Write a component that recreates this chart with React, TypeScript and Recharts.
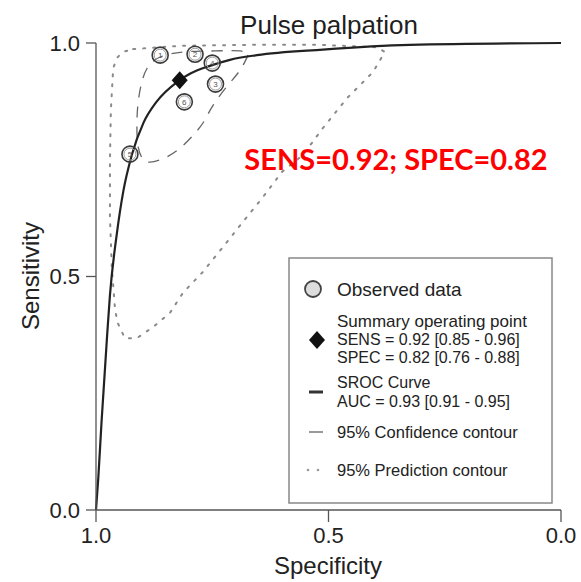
import React from 'react';
import { ComposedChart, Line, Scatter, XAxis, YAxis } from 'recharts';

// Observed studies
const studyIds = ['1', '2', '4', '3', '6', '5'];
const studySpec = [0.862, 0.787, 0.75, 0.743, 0.81, 0.927];
const studySens = [0.974, 0.976, 0.957, 0.912, 0.874, 0.762];

// Summary operating point
const summarySpec = [0.82];
const summarySens = [0.92];

// SROC curve
const srocSpec = [1.0, 0.995, 0.988, 0.976, 0.97, 0.955, 0.941, 0.923, 0.898, 0.87, 0.825, 0.798, 0.755, 0.712, 0.654, 0.512, 0.325, 0.0];
const srocSens = [0.0, 0.07, 0.19, 0.375, 0.46, 0.593, 0.684, 0.76, 0.829, 0.874, 0.917, 0.934, 0.951, 0.964, 0.974, 0.986, 0.996, 1.0];

// 95% confidence contour (closed)
const confSpec = [0.673, 0.69, 0.716, 0.748, 0.766, 0.787, 0.819, 0.852, 0.884, 0.901, 0.91, 0.912, 0.91, 0.903, 0.89, 0.862, 0.809, 0.744, 0.69, 0.673];
const confSens = [0.974, 0.942, 0.91, 0.867, 0.835, 0.807, 0.775, 0.754, 0.745, 0.754, 0.782, 0.824, 0.867, 0.91, 0.946, 0.97, 0.981, 0.983, 0.983, 0.974];

// 95% prediction contour (closed)
const predSpec = [0.92, 0.819, 0.669, 0.518, 0.396, 0.379, 0.404, 0.46, 0.512, 0.555, 0.6, 0.641, 0.684, 0.727, 0.77, 0.813, 0.841, 0.877, 0.912, 0.938, 0.953, 0.959, 0.966, 0.97, 0.97, 0.968, 0.963, 0.955, 0.942, 0.92];
const predSens = [0.987, 0.994, 0.996, 0.996, 0.991, 0.981, 0.938, 0.882, 0.818, 0.76, 0.724, 0.67, 0.617, 0.563, 0.51, 0.465, 0.422, 0.392, 0.368, 0.368, 0.4, 0.428, 0.52, 0.627, 0.749, 0.857, 0.946, 0.968, 0.981, 0.987];

const xTicks = [1, 0.5, 0];
const yTicks = [0, 0.5, 1];

const pairs = (s: number[], t: number[]) => s.map((v, i) => ({ spec: v, sens: t[i] }));

const studyData = studySpec.map((v, i) => ({ spec: v, sens: studySens[i], id: studyIds[i] }));
const summaryData = pairs(summarySpec, summarySens);
const srocData = pairs(srocSpec, srocSens);
const confData = pairs(confSpec, confSens);
const predData = pairs(predSpec, predSens);

const FONT = "'Liberation Sans', Arial, Helvetica, sans-serif";

const StudyMarker = (props: any) => {
  const { cx, cy, payload } = props;
  return (
    <g>
      <circle cx={cx} cy={cy} r={8} fill="none" stroke="#3a3a3a" strokeWidth={1.6} />
      <circle cx={cx} cy={cy} r={6} fill="none" stroke="#9a9a9a" strokeWidth={1} />
      <text x={cx} y={cy + 3} fontSize={8} textAnchor="middle" fill="#555" fontFamily={FONT}>
        {payload.id}
      </text>
    </g>
  );
};

const DiamondMarker = (props: any) => {
  const { cx, cy } = props;
  return (
    <polygon
      points={`${cx},${cy - 9} ${cx + 8},${cy} ${cx},${cy + 9} ${cx - 8},${cy}`}
      fill="#111"
    />
  );
};

export default function App() {
  const tickStyle = { fontSize: 22, fill: '#222', fontFamily: FONT };
  return (
    <div style={{ position: 'absolute', left: 0, top: 0, width: 581, height: 582, background: '#fff' }}>
      <ComposedChart
        width={581}
        height={582}
        margin={{ top: 43, right: 20, left: 0, bottom: 0 }}
      >
        <XAxis
          type="number"
          dataKey="spec"
          domain={[0, 1]}
          reversed
          ticks={xTicks}
          tickFormatter={(v: number) => v.toFixed(1)}
          height={72}
          tickSize={12}
          tickMargin={5}
          tick={tickStyle}
          stroke="#555"
          strokeWidth={1.3}
          interval={0}
        />
        <YAxis
          type="number"
          dataKey="sens"
          domain={[0, 1]}
          ticks={yTicks}
          tickFormatter={(v: number) => v.toFixed(1)}
          width={96}
          tickSize={10}
          tickMargin={6}
          tick={tickStyle}
          stroke="#555"
          strokeWidth={1.3}
          interval={0}
        />
        <Line
          data={predData}
          dataKey="sens"
          type="linear"
          stroke="#8a8a8a"
          strokeWidth={2}
          strokeDasharray="2 8"
          strokeLinecap="round"
          dot={false}
          activeDot={false}
          isAnimationActive={false}
        />
        <Line
          data={confData}
          dataKey="sens"
          type="natural"
          stroke="#666"
          strokeWidth={1.3}
          strokeDasharray="11 9"
          dot={false}
          activeDot={false}
          isAnimationActive={false}
        />
        <Line
          data={srocData}
          dataKey="sens"
          type="monotone"
          stroke="#222"
          strokeWidth={2.2}
          dot={false}
          activeDot={false}
          isAnimationActive={false}
        />
        <Scatter data={studyData} shape={StudyMarker} isAnimationActive={false} />
        <Scatter data={summaryData} shape={DiamondMarker} isAnimationActive={false} />
      </ComposedChart>
      <svg
        width={581}
        height={582}
        style={{ position: 'absolute', left: 0, top: 0, pointerEvents: 'none' }}
        fontFamily={FONT}
      >
        <text x={329} y={34} fontSize={26} textAnchor="middle" fill="#1e1e1e">
          Pulse palpation
        </text>
        <text x={396} y={170} fontSize={29} fontWeight={700} textAnchor="middle" fill="#ff0000" fontFamily="Lato, 'Open Sans', sans-serif">
          SENS=0.92; SPEC=0.82
        </text>
        <text x={328} y={574} fontSize={24} textAnchor="middle" fill="#222">
          Specificity
        </text>
        <text transform="translate(39,276) rotate(-90)" fontSize={24} textAnchor="middle" fill="#222">
          Sensitivity
        </text>

        <rect x={289} y={258} width={263} height={245} fill="#fff" stroke="#888" strokeWidth={1.5} />
        <circle cx={313} cy={289} r={8} fill="#ddd" stroke="#444" strokeWidth={1.8} />
        <text x={337} y={289} fontSize={19} dominantBaseline="central" fill="#222">Observed data</text>

        <polygon points="317,331 325,340 317,349 309,340" fill="#111" />
        <text x={337} y={321} fontSize={17} dominantBaseline="central" fill="#222">Summary operating point</text>
        <text x={337} y={339.5} fontSize={16} dominantBaseline="central" fill="#222">SENS = 0.92 [0.85 - 0.96]</text>
        <text x={337} y={357.5} fontSize={16} dominantBaseline="central" fill="#222">SPEC = 0.82 [0.76 - 0.88]</text>

        <line x1={309} x2={323} y1={392} y2={392} stroke="#333" strokeWidth={3} />
        <text x={337} y={382} fontSize={16} dominantBaseline="central" fill="#222">SROC Curve</text>
        <text x={337} y={401} fontSize={16} dominantBaseline="central" fill="#222">AUC = 0.93 [0.91 - 0.95]</text>

        <line x1={309} x2={323} y1={432} y2={432} stroke="#999" strokeWidth={2} />
        <text x={337} y={432} fontSize={16.5} dominantBaseline="central" fill="#222">95% Confidence contour</text>

        <circle cx={308} cy={470} r={1.3} fill="#999" />
        <circle cx={318} cy={470} r={1.3} fill="#999" />
        <text x={337} y={470} fontSize={16.5} dominantBaseline="central" fill="#222">95% Prediction contour</text>
      </svg>
    </div>
  );
}
